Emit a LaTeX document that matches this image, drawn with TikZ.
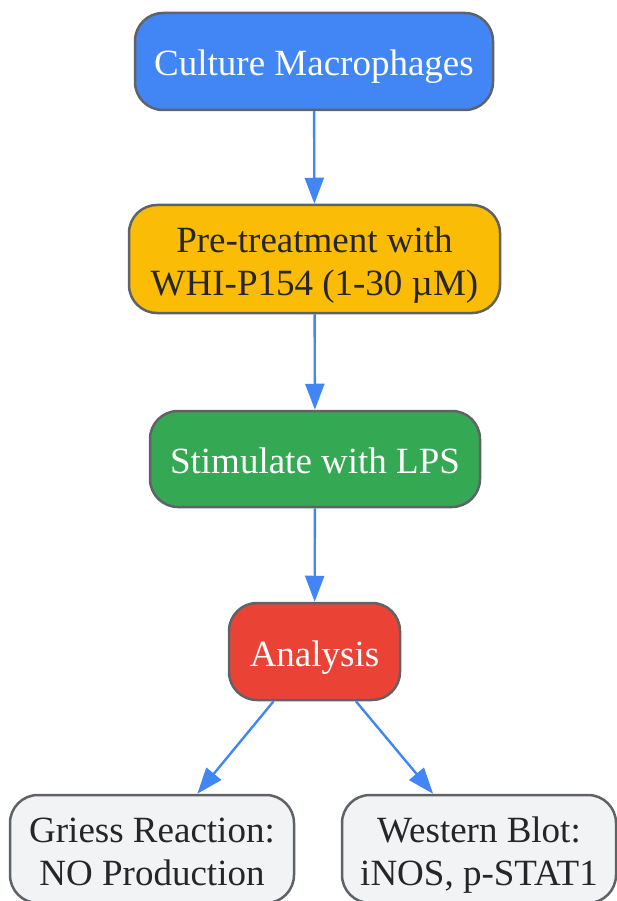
\documentclass[tikz,border=0pt]{standalone}
\usepackage{fontspec}
\setmainfont{Liberation Serif}
\usetikzlibrary{arrows.meta}
\definecolor{gblue}{HTML}{4285F4}
\definecolor{gyellow}{HTML}{FBBC05}
\definecolor{ggreen}{HTML}{34A853}
\definecolor{gred}{HTML}{EA4335}
\definecolor{ggray}{HTML}{F1F3F4}
\definecolor{gborder}{HTML}{5F6368}
\definecolor{gtext}{HTML}{262626}
\newcommand\topstrut{\rule{0pt}{37pt}}
\newcommand\botstrut{\rule[-8pt]{0pt}{8pt}}
\begin{document}
\begin{tikzpicture}[x=1pt,y=1pt,
  box/.style={draw=gborder, line width=2.5pt, rounded corners=28pt, inner sep=0pt,
    align=center, font=\fontsize{37}{43}\selectfont},
  flow/.style={draw=gblue, line width=2.4pt, -{Triangle[length=26pt,width=19pt]}}]
\useasboundingbox (0,0) rectangle (617,-901);
\node[box, fill=gblue, text=white, minimum width=358pt, minimum height=97pt] (A) at (314,-61.5)
  {\topstrut Culture Macrophages\botstrut};
\node[box, fill=gyellow, text=gtext, minimum width=371pt, minimum height=108pt] (B) at (314.5,-259)
  {\topstrut Pre-treatment with\\WHI-P154 (1-30 µM)\botstrut};
\node[box, fill=ggreen, text=white, minimum width=330pt, minimum height=96pt] (C) at (315,-459)
  {\topstrut Stimulate with LPS\botstrut};
\node[box, fill=gred, text=white, minimum width=171pt, minimum height=97pt] (D) at (314.5,-651.5)
  {\topstrut Analysis\botstrut};
\node[box, fill=ggray, text=gtext, minimum width=284pt, minimum height=108pt] (E) at (152,-849)
  {\topstrut Griess Reaction:\\NO Production\botstrut};
\node[box, fill=ggray, text=gtext, minimum width=274pt, minimum height=108pt] (F) at (479,-849)
  {\topstrut Western Blot:\\iNOS, p-STAT1\botstrut};
\draw[flow] (A) -- (B);
\draw[flow] (B) -- (C);
\draw[flow] (C) -- (D);
\draw[flow] (D) -- (E);
\draw[flow] (D) -- (F);
\end{tikzpicture}
\end{document}
